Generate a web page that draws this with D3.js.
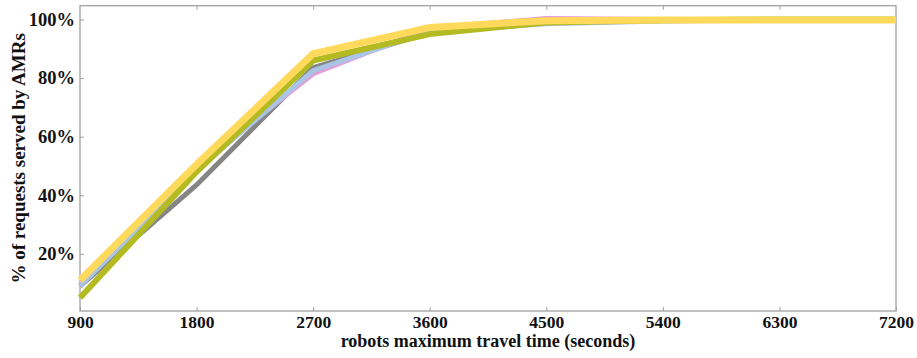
<!DOCTYPE html>
<html>
<head>
<meta charset="utf-8">
<script src="https://cdn.jsdelivr.net/npm/d3@7"></script>
<style>
  body { margin: 0; background: #fff; }
  text { font-family: "Liberation Serif", "Times New Roman", serif; font-weight: bold; fill: #111; }
</style>
</head>
<body>
<svg id="chart" width="917" height="358"></svg>
<script>
// travel time limits (seconds)
const travelTimes = [900, 1800, 2700, 3600, 4500, 5400, 6300, 7200];
const yTicks = [20, 40, 60, 80, 100];

// % of requests served, one array per scenario
const graySeries   = [9, 43.5, 83.5, 95.5, 98.8, 99.7, 100, 100];
const pinkSeries   = [9.5, 50, 81.5, 97, 100.3, 100, 100, 100];
const blueSeries   = [9, 48.5, 82.5, 96, 98.5, 99.5, 99.8, 99.8];
const oliveSeries  = [5, 48, 86, 95, 99, 99.7, 100, 100];
const yellowSeries = [11, 50.5, 88.3, 97.3, 99.6, 99.8, 99.8, 99.8];

const series = [
    { values: graySeries, color: "#858585", width: 5 },
    { values: pinkSeries, color: "#e79ad8", width: 5 },
    { values: blueSeries, color: "#aac4e6", width: 5 },
    { values: oliveSeries, color: "#b4bb22", width: 6 },
    { values: yellowSeries, color: "#ffd95c", width: 7 }
];

const svg = d3.select("#chart");
const plot = { left: 80, right: 896, top: 5.7, bottom: 311 };

const x = d3.scaleLinear().domain([900, 7200]).range([plot.left, plot.right]);
const y = d3.scaleLinear().domain([0.5, 104.7]).range([plot.bottom, plot.top]);

// frame
svg.append("rect")
    .attr("x", plot.left).attr("y", plot.top)
    .attr("width", plot.right - plot.left).attr("height", plot.bottom - plot.top)
    .attr("fill", "none")
    .attr("stroke", "#a0a0a0")
    .attr("stroke-width", 1.3);

// lines
const line = d3.line()
    .x((d, i) => x(travelTimes[i]))
    .y(d => y(d));

series.forEach(s => {
    svg.append("path")
        .datum(s.values)
        .attr("d", line)
        .attr("fill", "none")
        .attr("stroke", s.color)
        .attr("stroke-width", s.width)
        .attr("stroke-linejoin", "miter");
});

// x axis (bottom, inward ticks)
const xAxis = svg.append("g")
    .attr("transform", `translate(0,${plot.bottom})`)
    .call(d3.axisBottom(x).tickValues(travelTimes).tickSizeInner(-4).tickSizeOuter(0).tickPadding(5)
        .tickFormat(d3.format("d")));
xAxis.select(".domain").remove();
xAxis.selectAll("line").attr("stroke", "#a0a0a0");
xAxis.selectAll("text").attr("font-size", "17.5px").attr("dy", "0.71em");

// top ticks
const xTop = svg.append("g")
    .attr("transform", `translate(0,${plot.top})`)
    .call(d3.axisTop(x).tickValues(travelTimes.slice(1, -1)).tickSizeInner(-4).tickSizeOuter(0).tickFormat(""));
xTop.select(".domain").remove();
xTop.selectAll("line").attr("stroke", "#a0a0a0");

// y axis (left, inward ticks)
const yAxis = svg.append("g")
    .attr("transform", `translate(${plot.left},0)`)
    .call(d3.axisLeft(y).tickValues(yTicks).tickSizeInner(-4).tickSizeOuter(0).tickPadding(5)
        .tickFormat(d => d + "%"));
yAxis.select(".domain").remove();
yAxis.selectAll("line").attr("stroke", "#a0a0a0");
yAxis.selectAll("text").attr("font-size", "18.5px");

// axis titles
svg.append("text")
    .attr("x", (plot.left + plot.right) / 2)
    .attr("y", 347)
    .attr("text-anchor", "middle")
    .attr("font-size", "18px")
    .text("robots maximum travel time (seconds)");

svg.append("text")
    .attr("transform", `translate(25,${(plot.top + plot.bottom) / 2}) rotate(-90)`)
    .attr("text-anchor", "middle")
    .attr("font-size", "19px")
    .text("% of requests served by AMRs");
</script>
</body>
</html>
